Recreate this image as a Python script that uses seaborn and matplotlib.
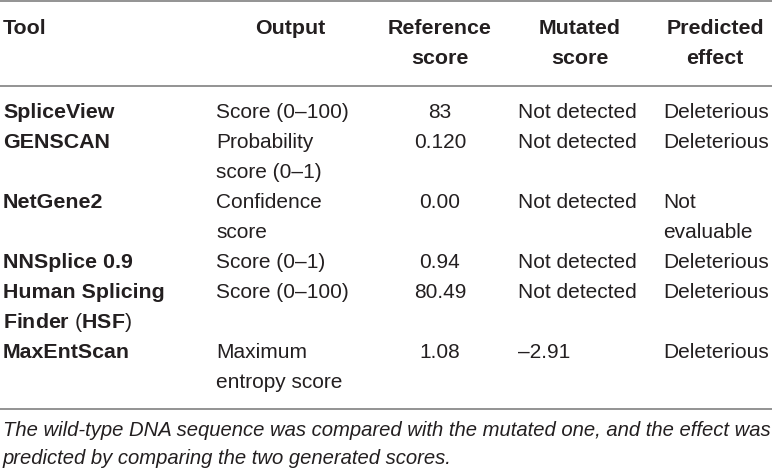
import matplotlib
matplotlib.use("Agg")
import matplotlib.pyplot as plt
import seaborn as sns

sns.set_theme(style="white")
plt.rcParams['font.family'] = ['Liberation Sans', 'DejaVu Sans']
plt.rcParams['mathtext.fontset'] = 'custom'
plt.rcParams['mathtext.rm'] = 'Liberation Sans'
plt.rcParams['mathtext.bf'] = 'Liberation Sans:bold'

# ---- data ----
headers = [["Tool"], ["Output"], ["Reference", "score"], ["Mutated", "score"], ["Predicted", "effect"]]
tools = [["SpliceView"], ["GENSCAN"], ["NetGene2"], ["NNSplice 0.9"],
         ["Human Splicing", r"$\mathbf{Finder}$ ($\mathbf{HSF}$)"], ["MaxEntScan"]]
outputs = [["Score (0–100)"], ["Probability", "score (0–1)"], ["Confidence", "score"],
           ["Score (0–1)"], ["Score (0–100)"], ["Maximum", "entropy score"]]
reference_scores = ["83", "0.120", "0.00", "0.94", "80.49", "1.08"]
mutated_scores = ["Not detected", "Not detected", "Not detected", "Not detected", "Not detected", "–2.91"]
effects = [["Deleterious"], ["Deleterious"], ["Not", "evaluable"], ["Deleterious"], ["Deleterious"], ["Deleterious"]]
caption = ["The wild-type DNA sequence was compared with the mutated one, and the effect was",
           "predicted by comparing the two generated scores."]

W, H = 772, 471
fig = plt.figure(figsize=(W / 100, H / 100), dpi=100)
ax = fig.add_axes([0, 0, 1, 1])
ax.set_xlim(0, W)
ax.set_ylim(H, 0)
ax.axis('off')

txt = '#231f20'
line_c = '#8a8a8a'
fs = 15
fsb = 15.4

# rules
for y in (0.8, 86, 409):
    ax.plot([0, W], [y, y], color=line_c, lw=1.3, solid_capstyle='butt')

# header
hx = [(3, 'left'), (290, 'center'), (440, 'center'), (580, 'center'), (715, 'center')]
for (x, ha), lines in zip(hx, headers):
    for k, s in enumerate(lines):
        ax.text(x, 28 + 30 * k, s, ha=ha, va='center', fontsize=fsb, fontweight='bold', color=txt)

# body
y0, dy = 113, 30
k = 0
for i in range(len(tools)):
    nlines = max(len(tools[i]), len(outputs[i]), len(effects[i]))
    for j, s in enumerate(tools[i]):
        if s.startswith('$'):
            ax.text(3, y0 + dy * (k + j), s, ha='left', va='center', fontsize=fsb, color=txt)
        else:
            ax.text(3, y0 + dy * (k + j), s, ha='left', va='center', fontsize=fsb,
                    fontweight='bold', color=txt)
    for j, s in enumerate(outputs[i]):
        ax.text(216, y0 + dy * (k + j), s, ha='left', va='center', fontsize=fs, color=txt)
    ax.text(440, y0 + dy * k, reference_scores[i], ha='center', va='center', fontsize=fs, color=txt)
    ax.text(518, y0 + dy * k, mutated_scores[i], ha='left', va='center', fontsize=fs, color=txt)
    for j, s in enumerate(effects[i]):
        ax.text(663, y0 + dy * (k + j), s, ha='left', va='center', fontsize=fs, color=txt)
    k += nlines

for j, s in enumerate(caption):
    ax.text(3, 431 + 27 * j, s, ha='left', va='center', fontsize=14.55, style='italic', color=txt)

fig.savefig('out.png', dpi=100)
